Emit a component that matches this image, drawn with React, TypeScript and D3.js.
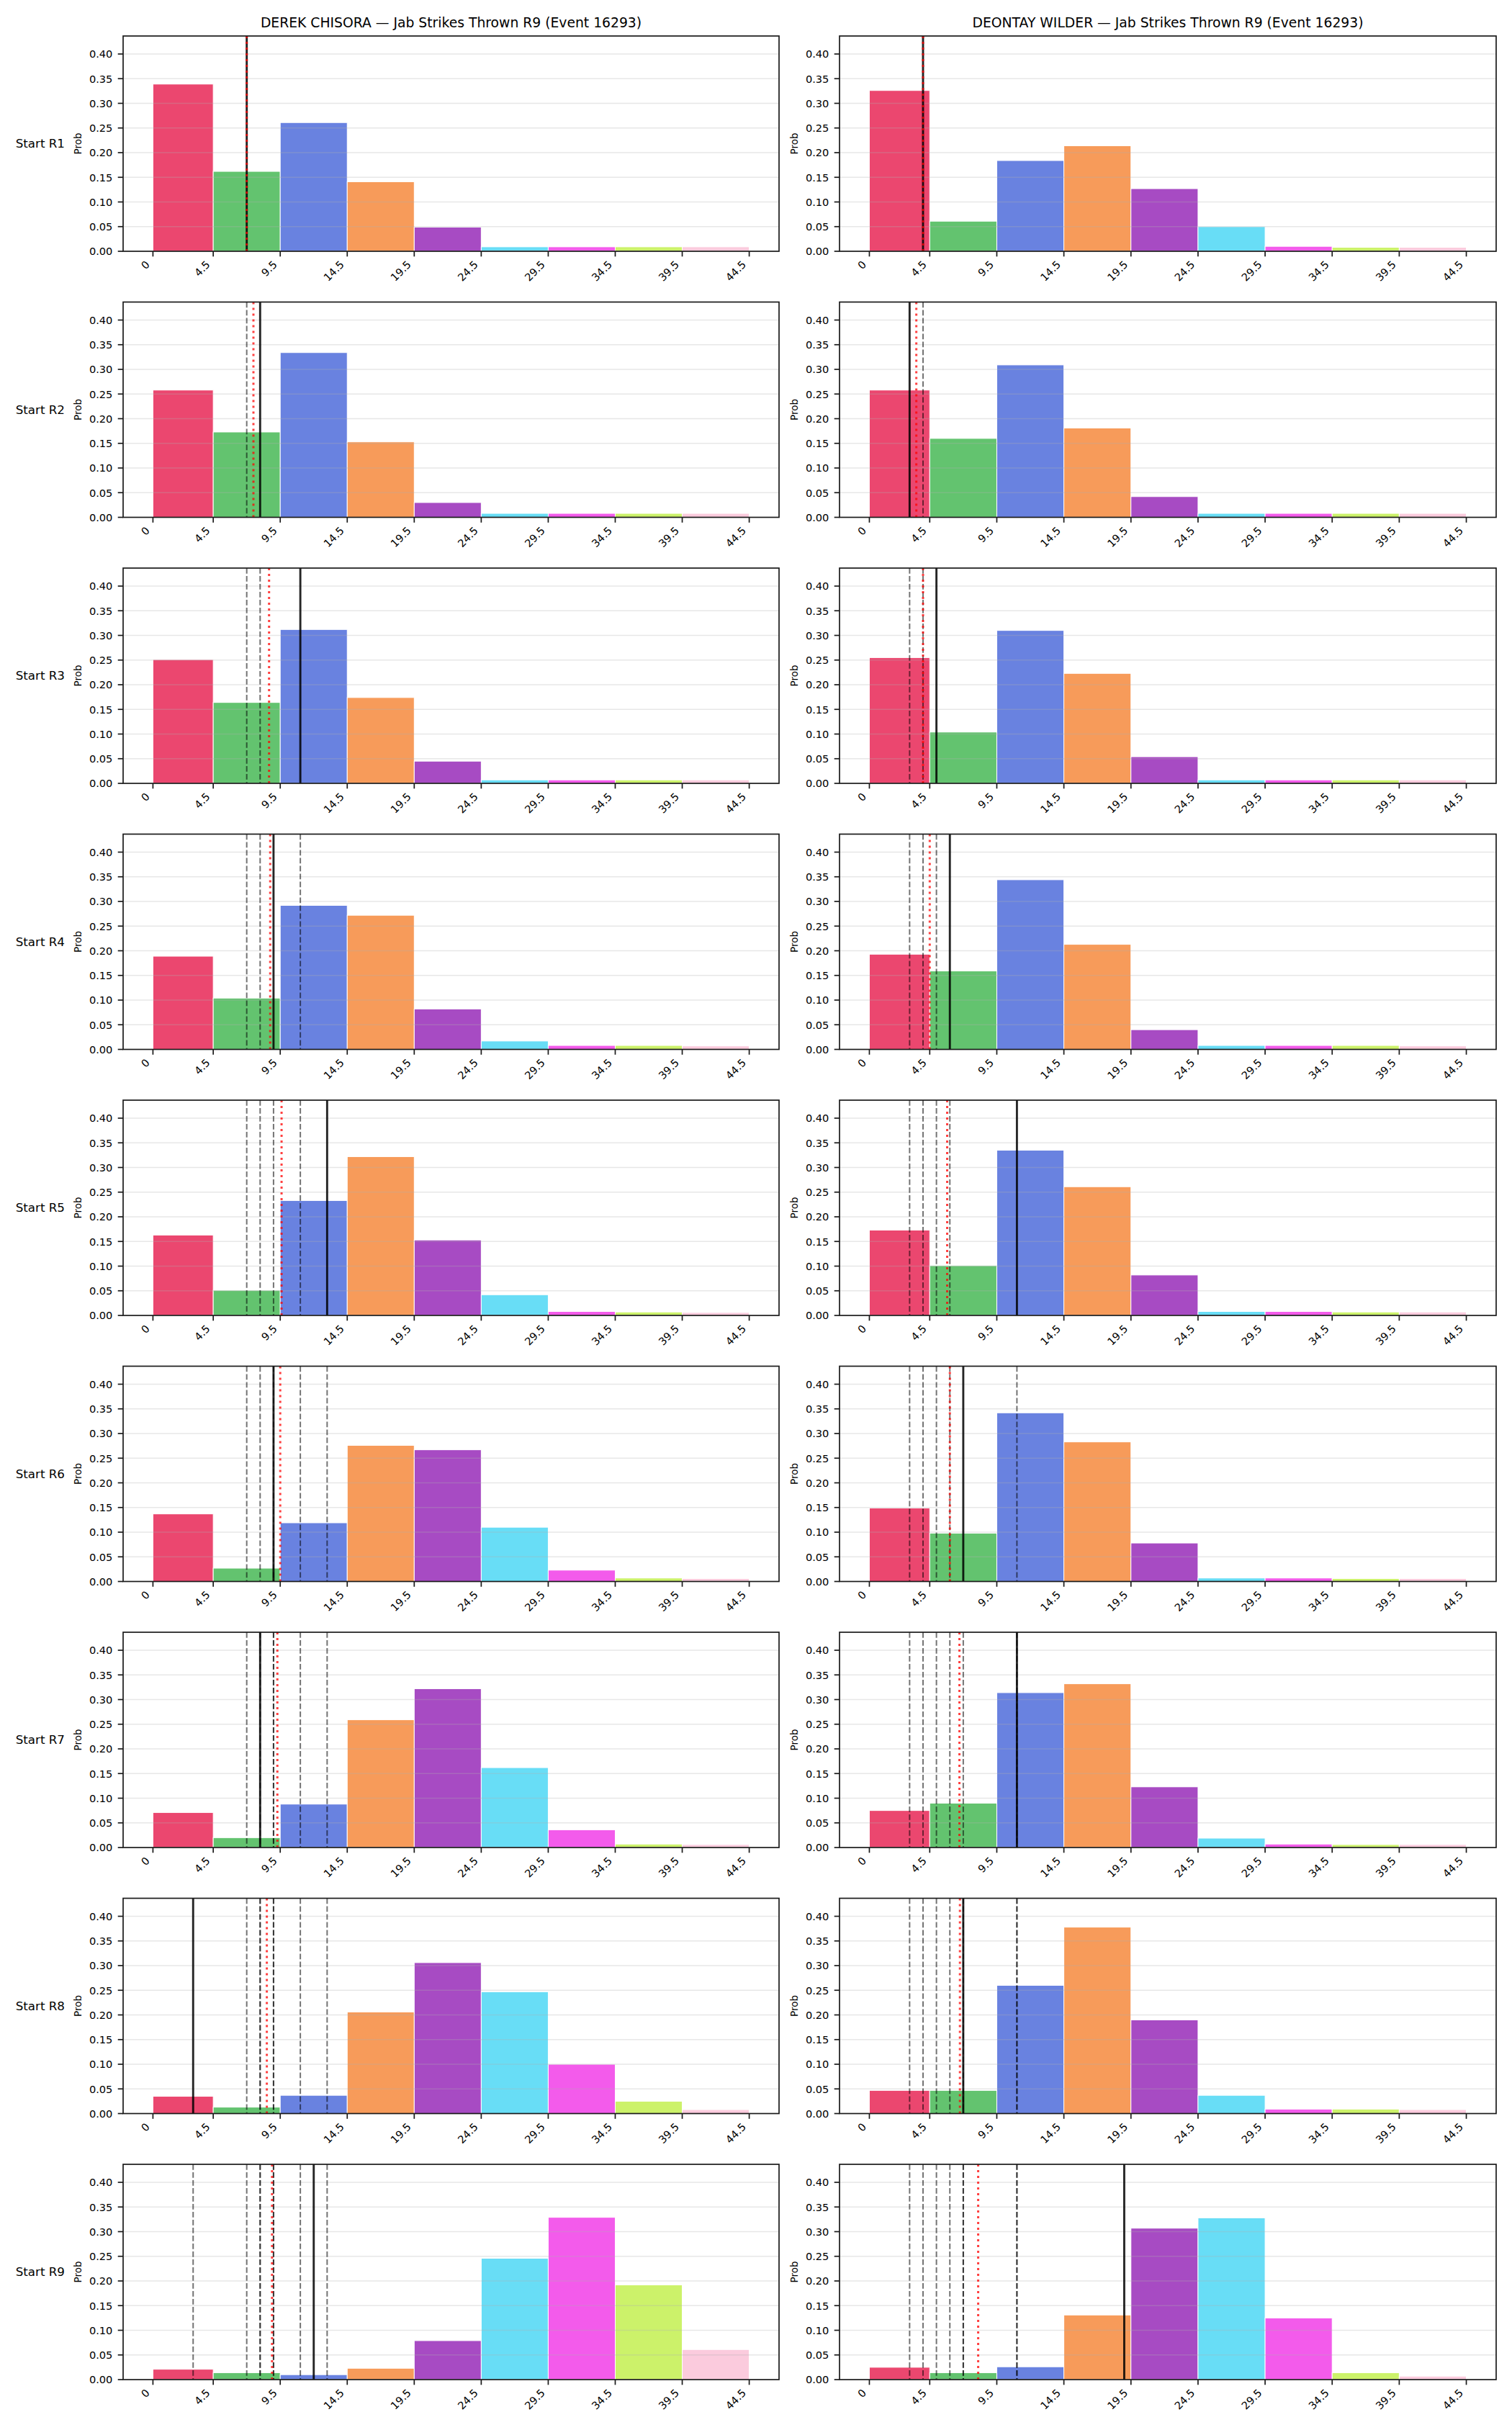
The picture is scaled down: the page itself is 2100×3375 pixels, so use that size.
import React from "react";
import * as d3 from "d3";

const fighters = ["DEREK CHISORA", "DEONTAY WILDER"];
const rounds = ["R1", "R2", "R3", "R4", "R5", "R6", "R7", "R8", "R9"];
const binEdges = [0, 4.5, 9.5, 14.5, 19.5, 24.5, 29.5, 34.5, 39.5, 44.5];
const binColors = [
  "#e6194b", "#3cb44b", "#4363d8", "#f58231", "#911eb4",
  "#42d4f4", "#f032e6", "#bfef45", "#fabed4"
];
const yTicks = [0, 0.05, 0.1, 0.15, 0.2, 0.25, 0.3, 0.35, 0.4];

// predicted R9 jab distribution, one row per "start of round"
const chisoraProbs = [
  [0.339, 0.162, 0.261, 0.141, 0.049, 0.009, 0.009, 0.009, 0.009],
  [0.258, 0.173, 0.334, 0.153, 0.030, 0.008, 0.008, 0.008, 0.008],
  [0.251, 0.164, 0.312, 0.174, 0.045, 0.007, 0.007, 0.007, 0.007],
  [0.189, 0.104, 0.292, 0.272, 0.082, 0.017, 0.008, 0.008, 0.007],
  [0.163, 0.051, 0.233, 0.322, 0.153, 0.042, 0.008, 0.007, 0.006],
  [0.137, 0.027, 0.119, 0.276, 0.267, 0.110, 0.023, 0.007, 0.006],
  [0.071, 0.020, 0.088, 0.259, 0.322, 0.162, 0.036, 0.007, 0.006],
  [0.035, 0.013, 0.037, 0.206, 0.306, 0.247, 0.100, 0.025, 0.008],
  [0.021, 0.014, 0.010, 0.023, 0.079, 0.246, 0.329, 0.192, 0.061]
];
const wilderProbs = [
  [0.326, 0.061, 0.184, 0.214, 0.127, 0.050, 0.010, 0.008, 0.008],
  [0.258, 0.160, 0.309, 0.181, 0.042, 0.008, 0.008, 0.008, 0.008],
  [0.255, 0.104, 0.310, 0.223, 0.054, 0.007, 0.007, 0.007, 0.007],
  [0.193, 0.159, 0.344, 0.213, 0.040, 0.008, 0.008, 0.008, 0.007],
  [0.173, 0.101, 0.335, 0.261, 0.082, 0.008, 0.008, 0.007, 0.007],
  [0.149, 0.098, 0.342, 0.283, 0.078, 0.007, 0.007, 0.006, 0.006],
  [0.075, 0.090, 0.314, 0.332, 0.123, 0.019, 0.007, 0.006, 0.006],
  [0.047, 0.047, 0.260, 0.378, 0.190, 0.037, 0.009, 0.009, 0.008],
  [0.025, 0.014, 0.026, 0.131, 0.307, 0.328, 0.125, 0.014, 0.007]
];

// jabs actually thrown in each round
const chisoraJabs = [7, 8, 11, 9, 13, 9, 8, 3, 12];
const wilderJabs = [4, 3, 5, 6, 11, 7, 11, 7, 19];

const FONT = "DejaVu Sans, Verdana, sans-serif";
const W = 2100;
const H = 3375;
const cols = [
  { left: 171, right: 1082, probs: chisoraProbs, jabs: chisoraJabs },
  { left: 1166, right: 2078, probs: wilderProbs, jabs: wilderJabs }
];
const firstTop = 50;
const rowStep = 369.5;
const panelH = 299;

function Panel({ probs, jabs, round, left, right, top, title, rowLabel }) {
  const x = d3.scaleLinear().domain([-2.225, 46.725]).range([left, right]);
  const y = d3.scaleLinear().domain([0, 0.4365]).range([top + panelH, top]);
  const y0 = y(0);
  const mean = d3.mean(jabs.slice(0, round + 1));
  const prev = jabs.slice(0, round);
  const clipId = `clip-${left}-${round}`;

  return (
    <g>
      <clipPath id={clipId}>
        <rect x={left} y={top} width={right - left} height={panelH} />
      </clipPath>

      {probs.map((p, i) => (
        <rect
          key={i}
          x={x(binEdges[i])}
          y={y(p)}
          width={x(binEdges[i + 1]) - x(binEdges[i])}
          height={y0 - y(p)}
          fill={binColors[i]}
          fillOpacity={0.8}
          stroke="#fff"
          strokeWidth={1}
        />
      ))}

      {yTicks.slice(1).map(t => (
        <line key={t} x1={left} x2={right} y1={y(t)} y2={y(t)}
          stroke="#b0b0b0" strokeOpacity={0.3} strokeWidth={1.6} />
      ))}

      <g clipPath={`url(#${clipId})`}>
        {prev.map((v, i) => (
          <line key={i} x1={x(v)} x2={x(v)} y1={top} y2={y0}
            stroke="#000" strokeOpacity={0.55} strokeWidth={2}
            strokeDasharray="7.7 3.3" />
        ))}
        <line x1={x(jabs[round])} x2={x(jabs[round])} y1={top} y2={y0}
          stroke="#000" strokeOpacity={0.85} strokeWidth={2.9} />
        <line x1={x(mean)} x2={x(mean)} y1={top} y2={y0}
          stroke="#ff0000" strokeOpacity={0.75} strokeWidth={3}
          strokeDasharray="3 5" />
      </g>

      <rect x={left} y={top} width={right - left} height={panelH}
        fill="none" stroke="#1a1a1a" strokeWidth={1.7} />

      {yTicks.map(t => (
        <g key={t}>
          <line x1={left - 7.3} x2={left} y1={y(t)} y2={y(t)} stroke="#1a1a1a" strokeWidth={1.7} />
          <text x={left - 14.6} y={y(t)} dy="0.36em" textAnchor="end"
            fontFamily={FONT} fontSize={14.6} fill="#000">{t.toFixed(2)}</text>
        </g>
      ))}

      {binEdges.map(b => (
        <g key={b}>
          <line x1={x(b)} x2={x(b)} y1={y0} y2={y0 + 7.3} stroke="#1a1a1a" strokeWidth={1.7} />
          <text
            transform={`translate(${x(b) - 3.5},${y0 + 19.5}) rotate(-45)`}
            textAnchor="end" fontFamily={FONT} fontSize={14.6} fill="#000">
            {String(b)}
          </text>
        </g>
      ))}

      <text transform={`translate(${left - 58},${top + panelH / 2}) rotate(-90)`}
        textAnchor="middle" fontFamily={FONT} fontSize={13.5} fill="#000">Prob</text>

      {rowLabel && (
        <text x={90} y={top + panelH / 2} dy="0.35em" textAnchor="end"
          fontFamily={FONT} fontSize={16.7} fill="#000">{rowLabel}</text>
      )}

      {title && (
        <text x={(left + right) / 2} y={top - 12} textAnchor="middle"
          fontFamily={FONT} fontSize={18.75} fill="#000">{title}</text>
      )}
    </g>
  );
}

export default function App() {
  return (
    <div style={{ position: "absolute", left: 0, top: 0 }}>
      <svg width={W} height={H} style={{ display: "block", background: "#fff" }}>
        <rect width={W} height={H} fill="#fff" />
        {rounds.map((r, ri) =>
          cols.map((c, ci) => (
            <Panel
              key={`${ri}-${ci}`}
              probs={c.probs[ri]}
              jabs={c.jabs}
              round={ri}
              left={c.left}
              right={c.right}
              top={firstTop + ri * rowStep}
              title={ri === 0 ? `${fighters[ci]} — Jab Strikes Thrown R9 (Event 16293)` : null}
              rowLabel={ci === 0 ? `Start ${r}` : null}
            />
          ))
        )}
      </svg>
    </div>
  );
}
